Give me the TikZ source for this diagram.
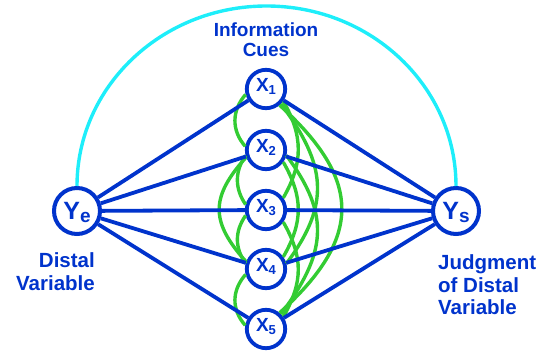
\documentclass[tikz,border=0pt]{standalone}
\usepackage{fontspec}
\setmainfont{Liberation Sans}
\definecolor{lensblue}{RGB}{0,51,204}
\definecolor{cuegreen}{RGB}{51,204,51}
\definecolor{arccyan}{RGB}{30,238,250}
\newcommand{\cuesub}[1]{\raisebox{-3pt}{\fontsize{13}{13}\selectfont #1}}
\newcommand{\varsub}[1]{\raisebox{-3pt}{\fontsize{19}{19}\selectfont #1}}
\begin{document}
\begin{tikzpicture}[x=1pt,y=1pt,
  cuenode/.style={circle, draw=lensblue, line width=3.8pt, fill=white,
    minimum size=38.4pt, inner sep=0pt, text=lensblue,
    font=\bfseries\fontsize{19}{19}\selectfont, text height=13.6pt, text depth=7.6pt},
  varnode/.style={circle, draw=lensblue, line width=4pt, fill=white,
    minimum size=46pt, inner sep=0pt, text=lensblue,
    font=\bfseries\fontsize{25}{25}\selectfont, text height=18pt, text depth=1pt},
  link/.style={draw=lensblue, line width=3.8pt},
  intercor/.style={draw=cuegreen, line width=3.4pt},
  caption/.style={text=lensblue, inner sep=0pt,
    font=\bfseries\fontsize{20.5}{22.5}\selectfont},
  topcaption/.style={text=lensblue, inner sep=0pt,
    font=\bfseries\fontsize{19}{20}\selectfont}
]
\useasboundingbox (0,0) rectangle (542,354);

% distal variable, judgment and the five cues
\node[varnode] (Ye) at (77,143) {Y\varsub{e}};
\node[varnode] (Ys) at (456,143) {Y\varsub{s}};
\node[cuenode] (X1) at (266,265) {X\cuesub{1}};
\node[cuenode] (X2) at (266,204) {X\cuesub{2}};
\node[cuenode] (X3) at (266,144) {X\cuesub{3}};
\node[cuenode] (X4) at (266,85) {X\cuesub{4}};
\node[cuenode] (X5) at (266,25) {X\cuesub{5}};

% captions
\node[topcaption, align=center, anchor=north] (cues) at (266,331.6) {Information\\Cues};
\node[caption, align=right, anchor=north east] (distal) at (95,101.3) {Distal\\Variable};
\node[caption, align=left, anchor=north west] (judg) at (438,99.3) {Judgment\\of Distal\\Variable};

% achievement arc
\draw[arccyan, line width=3.4pt] (Ye.north) arc[start angle=180, end angle=0, x radius=189.5, y radius=180];

% intercorrelations among the cues, left side
\draw[intercor] (X1.195) .. controls +(-14,-16) and +(-14,16) .. (X2.170);
\draw[intercor] (X2.195) .. controls +(-11,-16) and +(-11,16) .. (X3.165);
\draw[intercor] (X3.195) .. controls +(-11,-16) and +(-11,16) .. (X4.165);
\draw[intercor] (X4.195) .. controls +(-14,-16) and +(-14,16) .. (X5.170);
\draw[intercor] (X2.200) .. controls +(-36,-40) and +(-36,40) .. (X4.160);

% intercorrelations among the cues, right side
\draw[intercor] (X1.-35) .. controls +(20,-35) and +(20,35) .. (X3.35);
\draw[intercor] (X2.-35) .. controls +(20,-35) and +(20,35) .. (X4.35);
\draw[intercor] (X3.-35) .. controls +(20,-35) and +(20,35) .. (X5.35);
\draw[intercor] (X1.-45) .. controls +(45,-60) and +(45,60) .. (X4.15);
\draw[intercor] (X2.-15) .. controls +(45,-60) and +(45,60) .. (X5.45);
\draw[intercor] (X1.-50) .. controls +(83,-75) and +(83,75) .. (X5.50);

% cue validities and utilizations
\foreach \c in {X1,X2,X3,X4,X5} {
  \draw[link] (Ye) -- (\c);
  \draw[link] (\c) -- (Ys);
}
\end{tikzpicture}
\end{document}
